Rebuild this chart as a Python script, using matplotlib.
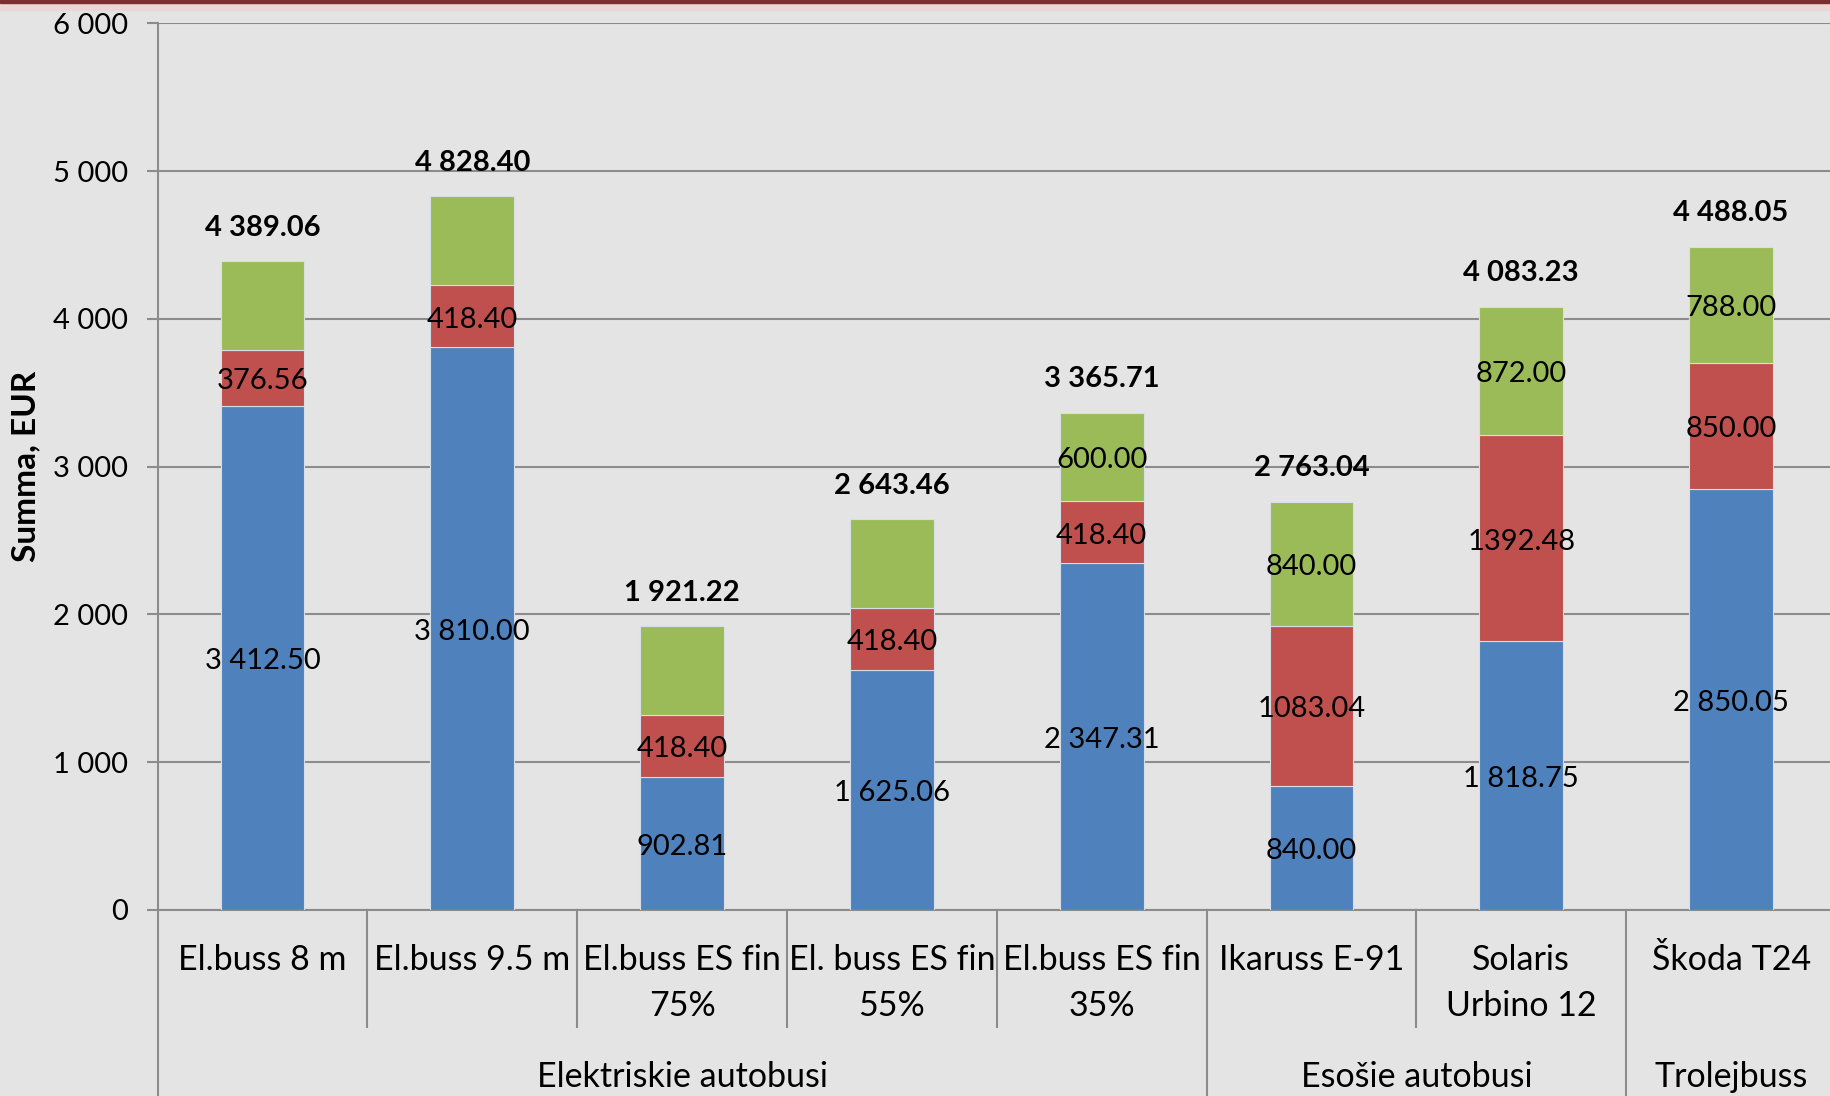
import matplotlib
matplotlib.use("Agg")
import matplotlib.pyplot as plt
from matplotlib.patches import Rectangle
import matplotlib.transforms as mtransforms

categories = ["El.buss 8 m", "El.buss 9.5 m", "El.buss ES fin\n75%", "El. buss ES fin\n55%",
              "El.buss ES fin\n35%", "Ikaruss E-91", "Solaris\nUrbino 12", "Škoda T24"]
groups = ["Elektriskie autobusi", "Esošie autobusi", "Trolejbuss"]
group_sizes = [5, 2, 1]

blue = [3412.50, 3810.00, 902.81, 1625.06, 2347.31, 840.00, 1818.75, 2850.05]
red = [376.56, 418.40, 418.40, 418.40, 418.40, 1083.04, 1392.48, 850.00]
green = [600.00, 600.00, 600.01, 600.00, 600.00, 840.00, 872.00, 788.00]
totals = [4389.06, 4828.40, 1921.22, 2643.46, 3365.71, 2763.04, 4083.23, 4488.05]
show_green_label = [False, False, False, False, True, True, True, True]
y_ticks = [0, 1000, 2000, 3000, 4000, 5000, 6000]

FONT = "Lato"
plt.rcParams["font.family"] = [FONT, "DejaVu Sans"]

BG = "#E4E4E4"
C_BLUE = "#4F81BD"
C_RED = "#C0504D"
C_GREEN = "#9BBB59"
GRID = "#8C8C8C"

def fmt_sp(v):
    s = f"{v:,.2f}"
    return s.replace(",", " ")

W, H = 1830, 1096
fig = plt.figure(figsize=(W / 100, H / 100), dpi=100, facecolor=BG)
left = 157.6 / W
bottom = (H - 910) / H
top = (H - 23.3) / H
right = 1836 / W
ax = fig.add_axes([left, bottom, right - left, top - bottom])
ax.set_facecolor(BG)

x = list(range(len(categories)))
bw = 0.40
ec = "#D8DEE6"
ax.bar(x, blue, width=bw, color=C_BLUE, edgecolor=ec, linewidth=0.8, zorder=3)
ax.bar(x, red, width=bw, bottom=blue, color=C_RED, edgecolor=ec, linewidth=0.8, zorder=3)
b2 = [b + r for b, r in zip(blue, red)]
ax.bar(x, green, width=bw, bottom=b2, color=C_GREEN, edgecolor=ec, linewidth=0.8, zorder=3)

ax.set_xlim(-0.5, len(categories) - 0.5)
ax.set_ylim(0, 6000)
ax.set_yticks(y_ticks)
ax.set_yticklabels([fmt_sp(v).replace(".00", "") for v in y_ticks], fontsize=21)
ax.tick_params(axis="y", length=8, width=1.5, color=GRID, pad=13)
ax.set_xticks([])
ax.yaxis.grid(True, color=GRID, linewidth=1.5, zorder=0)
ax.set_axisbelow(True)
for s in ["top", "right"]:
    ax.spines[s].set_visible(False)
ax.spines["left"].set_color(GRID)
ax.spines["left"].set_linewidth(1.5)
ax.spines["bottom"].set_color(GRID)
ax.spines["bottom"].set_linewidth(1.5)

ax_w = 1836 - 157.6
ax.set_ylabel("Summa, EUR", fontsize=24, fontweight="bold")
ax.yaxis.set_label_coords((40 - 157.6) / ax_w, 0.5)

lab_fs = 21
dy = -2.5
for i in x:
    ax.annotate(fmt_sp(blue[i]), (i, blue[i] / 2), xytext=(0, dy), textcoords="offset points",
                ha="center", va="center", fontsize=lab_fs, zorder=5)
    ax.annotate(f"{red[i]:.2f}", (i, blue[i] + red[i] / 2), xytext=(0, dy), textcoords="offset points",
                ha="center", va="center", fontsize=lab_fs, zorder=5)
    if show_green_label[i]:
        ax.annotate(f"{green[i]:.2f}", (i, b2[i] + green[i] / 2), xytext=(0, dy),
                    textcoords="offset points", ha="center", va="center", fontsize=lab_fs, zorder=5)
    ax.annotate(fmt_sp(totals[i]), (i, totals[i]), xytext=(0, 24), textcoords="offset points",
                ha="center", va="center", fontsize=lab_fs, fontweight="bold", zorder=5)

# category axis labels
trans = mtransforms.blended_transform_factory(ax.transData, ax.transAxes)
ax_h = 910 - 23.3
def yfrac(ypix):
    return (910 - ypix) / ax_h

cat_fs = 24.5
line_y = [960, 1006]
for i, c in enumerate(categories):
    for j, line in enumerate(c.split("\n")):
        ax.text(i, yfrac(line_y[j]), line, transform=trans, ha="center", va="center",
                fontsize=cat_fs, clip_on=False)

# separators
pos = 0
long_seps = set()
starts = []
for g, n in zip(groups, group_sizes):
    starts.append(pos)
    pos += n
    long_seps.add(pos - 0.5)
for k in range(1, len(categories)):
    xs = k - 0.5
    y_end = yfrac(H) if xs in long_seps else yfrac(1027)
    ax.plot([xs, xs], [0, y_end], transform=trans, color=GRID, lw=1.5, clip_on=False)
ax.plot([-0.5, -0.5], [0, yfrac(H)], transform=trans, color=GRID, lw=1.5, clip_on=False)

for g, n, s in zip(groups, group_sizes, starts):
    ax.text(s + (n - 1) / 2, yfrac(1077), g, transform=trans, ha="center", va="center",
            fontsize=cat_fs, clip_on=False)

# top decorative band
fig.patches.append(Rectangle((0, 1 - 10 / H), 1, 10 / H, transform=fig.transFigure,
                             color="#EBD6D6", zorder=0))
fig.patches.append(Rectangle((0, 1 - 3 / H), 1, 3 / H, transform=fig.transFigure,
                             color="#7A2E2E", zorder=1))

fig.savefig("out.png", dpi=100, facecolor=BG)
